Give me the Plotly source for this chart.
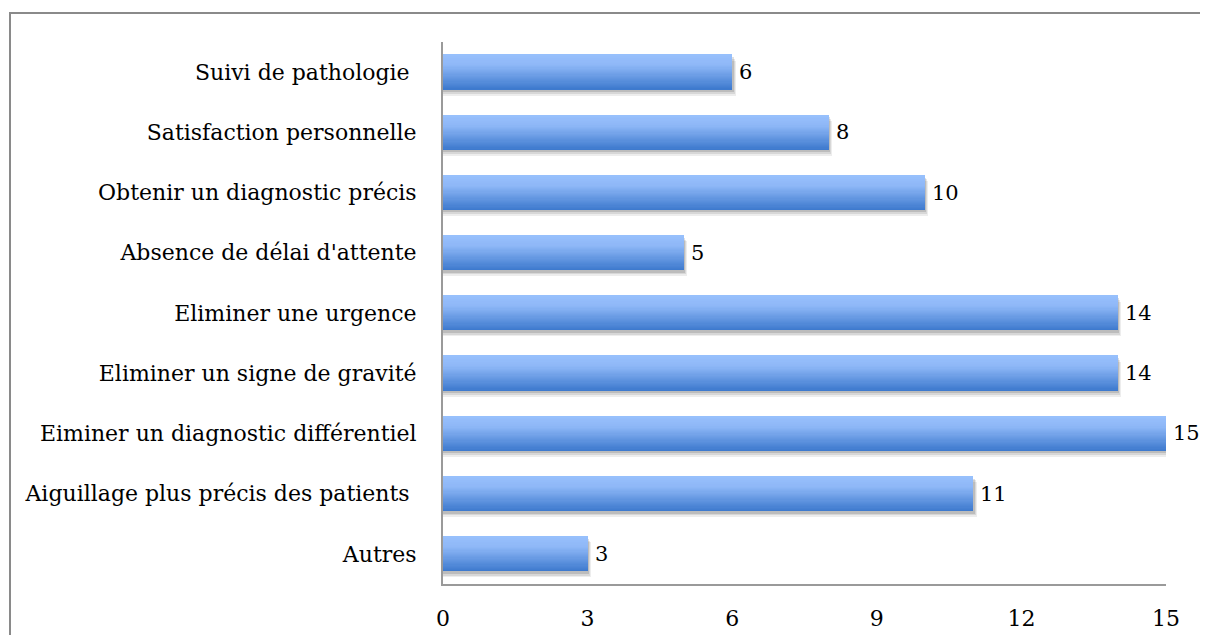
import plotly.graph_objects as go

categories = [
    "Autres",
    "Aiguillage plus précis des patients\u00a0",
    "Eiminer un diagnostic différentiel",
    "Eliminer un signe de gravité",
    "Eliminer une urgence",
    "Absence de délai d'attente",
    "Obtenir un diagnostic précis",
    "Satisfaction personnelle",
    "Suivi de pathologie\u00a0",
]
values = [3, 11, 15, 14, 14, 5, 10, 8, 6]
x_ticks = [0, 3, 6, 9, 12, 15]

FONT = "DejaVu Serif"
FS = 22
bar_h = 0.58
n_strips = 30
# gradient stops from top (0) to bottom (1)
stops = [(0.0, (152, 192, 252)), (0.3, (142, 183, 247)), (1.0, (60, 121, 205))]


def grad(s):
    for (s0, c0), (s1, c1) in zip(stops[:-1], stops[1:]):
        if s <= s1:
            t = (s - s0) / (s1 - s0)
            return tuple(round(a + (b - a) * t) for a, b in zip(c0, c1))
    return stops[-1][1]


fig = go.Figure()

# soft drop shadow
for dx, dy, a in [(0.07, 0.10, 0.07), (0.05, 0.07, 0.09), (0.03, 0.04, 0.12)]:
    fig.add_trace(go.Bar(
        y=categories, x=[v + dx for v in values], orientation="h",
        width=bar_h, offset=-bar_h / 2 - dy,
        marker=dict(color=f"rgba(0,0,0,{a})", line=dict(width=0)),
        hoverinfo="skip", showlegend=False,
    ))

# gradient bars built as stacked strips (bottom to top)
for i in range(n_strips):
    s_top = 1 - (i + 0.5) / n_strips
    c = grad(s_top)
    start = -bar_h / 2 + i * bar_h / n_strips
    fig.add_trace(go.Bar(
        y=categories, x=values, orientation="h",
        width=bar_h / 2 - start, offset=start,
        marker=dict(color=f"rgb{c}", line=dict(width=0)),
        hoverinfo="skip", showlegend=False,
    ))

for cat, v in zip(categories, values):
    fig.add_annotation(
        x=v, y=cat, text=str(v), showarrow=False,
        xanchor="left", xshift=5, yshift=0,
        font=dict(family=FONT, size=21, color="#000"),
    )

# the page places the figure 8px from the top-left corner
fig.update_layout(
    width=1192, height=627,
    barmode="overlay",
    bargap=0,
    plot_bgcolor="white", paper_bgcolor="white",
    margin=dict(l=435, r=34, t=34, b=51, autoexpand=False),
    font=dict(family=FONT, size=FS, color="#000"),
    xaxis=dict(
        range=[0, 15], tickvals=x_ticks, ticktext=[str(t) for t in x_ticks],
        showgrid=False, zeroline=False, showline=True,
        linecolor="#9a9a9a", linewidth=2, ticks="", ticklen=0,
        ticklabelstandoff=14,
        tickfont=dict(family=FONT, size=FS, color="#000"),
        fixedrange=True,
    ),
    yaxis=dict(
        categoryorder="array", categoryarray=categories,
        range=[-0.5, len(categories) - 0.5],
        showgrid=False, zeroline=False, showline=True,
        linecolor="#9a9a9a", linewidth=2, ticks="", ticklen=0,
        ticklabelstandoff=20,
        tickfont=dict(family=FONT, size=FS, color="#000"),
        fixedrange=True,
    ),
    shapes=[dict(
        type="rect", xref="paper", yref="paper",
        x0=(10 - 443) / 723, x1=(1300 - 443) / 723,
        y0=(584 - 720) / 542, y1=(584 - 13) / 542,
        line=dict(color="#8a8a8a", width=2), fillcolor="rgba(0,0,0,0)",
        layer="below",
    )],
)

fig.write_html("out.html")
